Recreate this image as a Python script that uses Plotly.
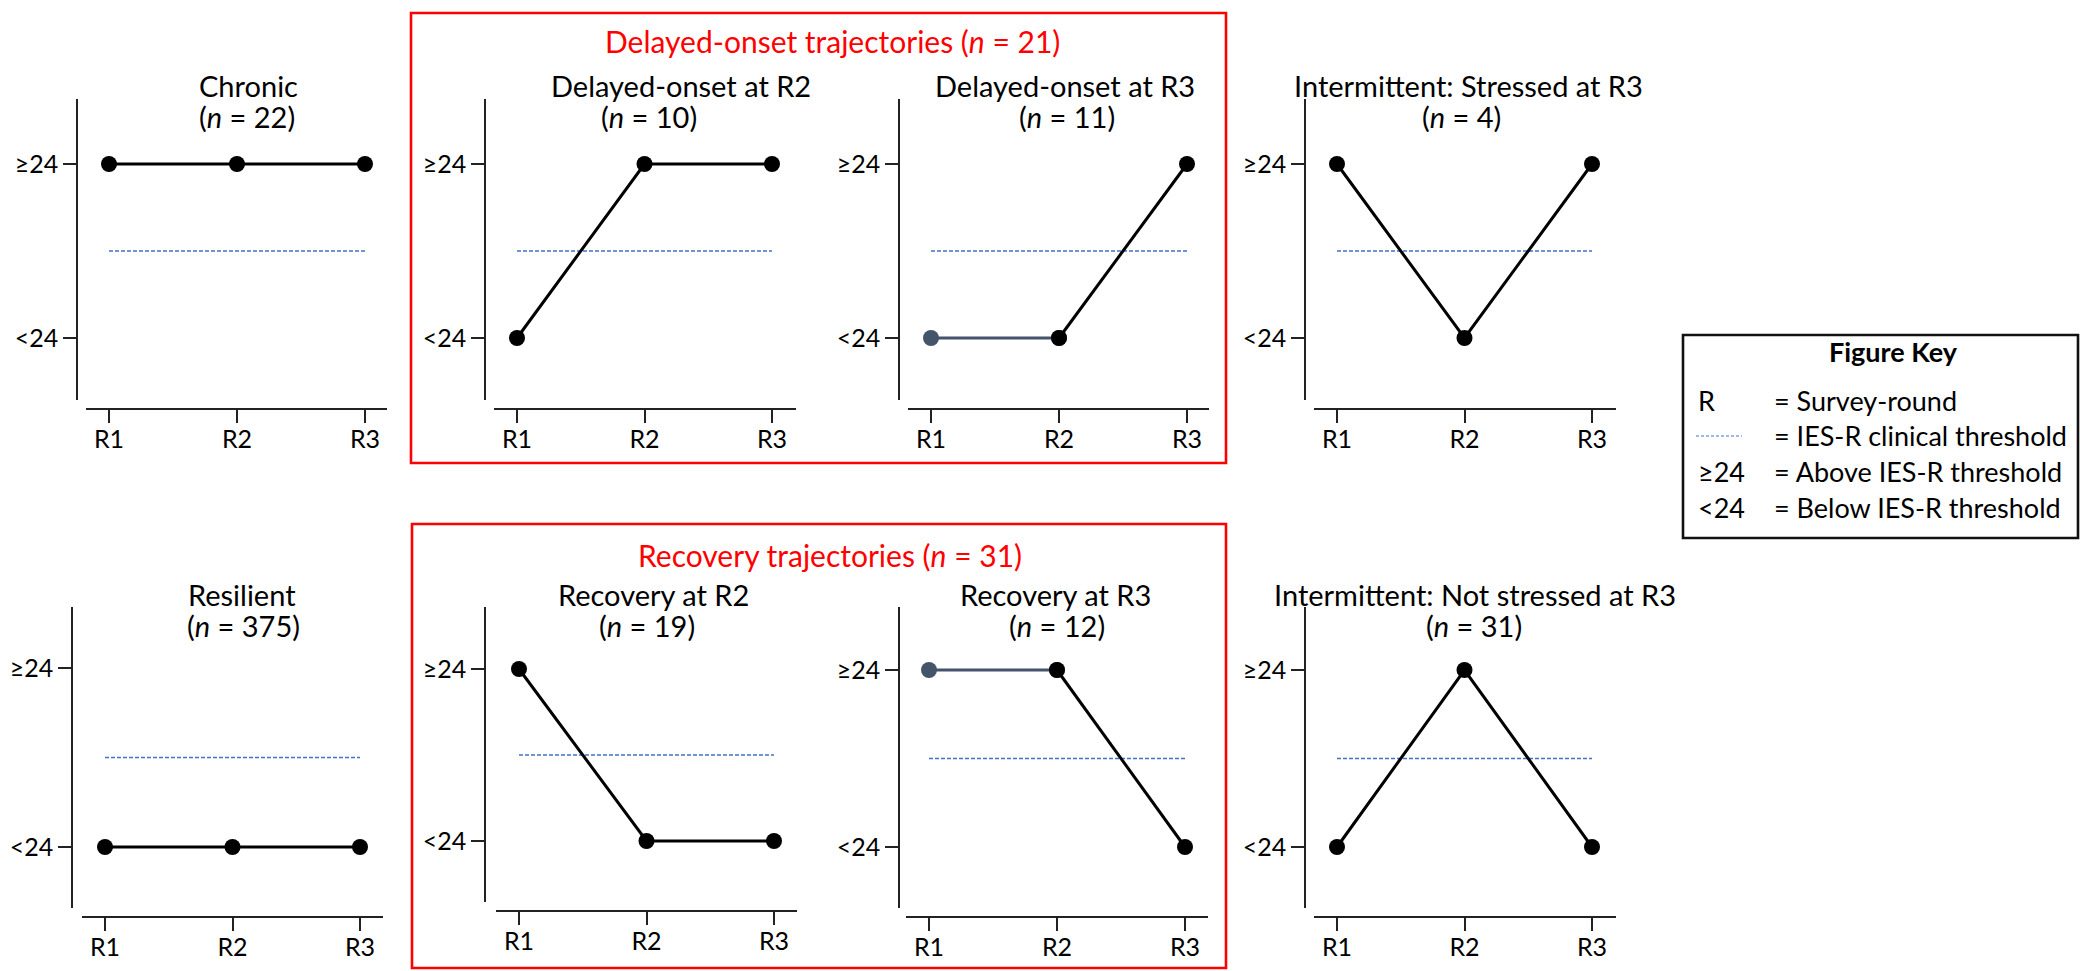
import plotly.graph_objects as go

# ---------------- data ----------------
rounds = ["R1", "R2", "R3"]
round_pos = [0, 1, 2]
level_labels = ["<24", "≥24"]
level_vals = [0, 1]
threshold_value = 0.5

panel_names = ["Chronic", "Delayed-onset at R2", "Delayed-onset at R3",
               "Intermittent: Stressed at R3", "Resilient", "Recovery at R2",
               "Recovery at R3", "Intermittent: Not stressed at R3"]
panel_n = [22, 10, 11, 4, 375, 19, 12, 31]
chronic = [1, 1, 1]
delayed_r2 = [0, 1, 1]
delayed_r3 = [0, 0, 1]
intermittent_stressed = [1, 0, 1]
resilient = [0, 0, 0]
recovery_r2 = [1, 0, 0]
recovery_r3 = [1, 1, 0]
intermittent_not = [0, 1, 0]
panel_values = [chronic, delayed_r2, delayed_r3, intermittent_stressed,
                resilient, recovery_r2, recovery_r3, intermittent_not]
# panels whose first (unchanged) segment is drawn in slate
slate_first_segment = [False, False, True, False, False, False, True, False]

group_names = ["Delayed-onset trajectories", "Recovery trajectories"]
group_n = [21, 31]

key_title = "Figure Key"
key_symbols = ["R", "", "≥24", "<24"]
key_texts = ["= Survey-round", "= IES-R clinical threshold",
             "= Above IES-R threshold", "= Below IES-R threshold"]

# ---------------- layout geometry (pixels) ----------------
W, H = 2080, 971
FONT = "Lato"
BLACK = "#000000"
SLATE = "#44546A"
BLUE = "#4472C4"
RED = "#FF0000"

# (yline_x, y_top, y_bot, xline_y, x_left, x_right, tick_r1, tick_r3, y_hi, y_lo)
geom = [
    (77, 99, 400, 409, 86, 387, 109, 365, 164, 338),
    (485, 99, 400, 409, 494, 796, 517, 772, 164, 338),
    (899, 99, 400, 409, 908, 1209, 931, 1187, 164, 338),
    (1305, 99, 400, 409, 1314, 1616, 1337, 1592, 164, 338),
    (72, 607, 908, 917, 82, 383, 105, 360, 668, 847),
    (485, 607, 902, 911, 496, 797, 519, 774, 669, 841),
    (899, 607, 908, 917, 906, 1208, 929, 1185, 670, 847),
    (1305, 607, 908, 917, 1314, 1616, 1337, 1592, 670, 847),
]
# (line1 center x, line2 center x)
title_x = [(248, 247), (681, 649), (1065, 1067), (1468, 1461),
           (242, 243), (653, 647), (1055, 1057), (1475, 1474)]
title_base = [(97, 128)] * 4 + [(606, 637)] * 4
group_title_pos = [(832, 53), (830, 567)]
group_boxes = [(411, 13, 1226, 463), (412, 524, 1226, 968)]
key_box = (1683, 335, 2078, 538)

TITLE_FS = 29
GROUP_FS = 30
TICK_FS = 25
KEY_FS = 27
MARKER = 16


def px(x):
    return x / W


def py(y):
    return 1 - y / H


def center_from_baseline(base, fs):
    return py(base - 0.387 * fs)


fig = go.Figure()
layout = {}
annotations = []
shapes = []

for i in range(8):
    (ylx, yt, yb, xly, xl, xr_, t1, t3, yhi, ylo) = geom[i]
    sfx = "" if i == 0 else str(i + 1)
    xa, ya = "x" + sfx, "y" + sfx
    s = (t3 - t1) / 2
    xrange = [-(t1 - xl) / s, 2 + (xr_ - t3) / s]
    sy = ylo - yhi
    yrange = [-(yb - ylo) / sy, 1 + (yhi - yt) / sy]
    layout["xaxis" + sfx] = dict(
        domain=[px(xl), px(xr_)], range=xrange, anchor="free", position=py(xly),
        showline=True, linecolor="#222222", linewidth=1.6, ticks="outside",
        ticklen=13, tickwidth=1.5, tickcolor="#222222", ticklabelstandoff=-5,
        tickvals=round_pos, ticktext=rounds, showgrid=False, zeroline=False,
        tickfont=dict(family=FONT, size=TICK_FS, color=BLACK), fixedrange=True)
    layout["yaxis" + sfx] = dict(
        domain=[py(yb), py(yt)], range=yrange, anchor="free", position=px(ylx),
        showline=True, linecolor="#222222", linewidth=1.6, ticks="outside",
        ticklen=13, tickwidth=1.5, tickcolor="#222222",
        tickvals=level_vals, ticktext=level_labels, showgrid=False, zeroline=False,
        tickfont=dict(family=FONT, size=TICK_FS, color=BLACK), fixedrange=True)

    # threshold
    fig.add_trace(go.Scatter(
        x=[round_pos[0], round_pos[-1]], y=[threshold_value, threshold_value],
        mode="lines", line=dict(color=BLUE, width=1.5, dash="4px,2px"),
        xaxis=xa, yaxis=ya, showlegend=False, hoverinfo="skip"))

    vals = panel_values[i]
    if slate_first_segment[i]:
        fig.add_trace(go.Scatter(
            x=round_pos[:2], y=vals[:2], mode="lines+markers",
            line=dict(color=SLATE, width=3), marker=dict(color=SLATE, size=MARKER),
            xaxis=xa, yaxis=ya, showlegend=False, cliponaxis=False))
        fig.add_trace(go.Scatter(
            x=round_pos[1:], y=vals[1:], mode="lines+markers",
            line=dict(color=BLACK, width=3), marker=dict(color=BLACK, size=MARKER),
            xaxis=xa, yaxis=ya, showlegend=False, cliponaxis=False))
    else:
        fig.add_trace(go.Scatter(
            x=round_pos, y=vals, mode="lines+markers",
            line=dict(color=BLACK, width=3), marker=dict(color=BLACK, size=MARKER),
            xaxis=xa, yaxis=ya, showlegend=False, cliponaxis=False))

    # titles
    (c1, c2), (b1, b2) = title_x[i], title_base[i]
    annotations.append(dict(
        text=panel_names[i], x=px(c1), y=center_from_baseline(b1, TITLE_FS),
        xref="paper", yref="paper", xanchor="center", yanchor="middle",
        showarrow=False, font=dict(family=FONT, size=TITLE_FS, color=BLACK)))
    annotations.append(dict(
        text=f"(<i>n</i> = {panel_n[i]})", x=px(c2), y=center_from_baseline(b2, TITLE_FS),
        xref="paper", yref="paper", xanchor="center", yanchor="middle",
        showarrow=False, font=dict(family=FONT, size=TITLE_FS, color=BLACK)))

# group boxes and titles
for g in range(2):
    x0, y0, x1, y1 = group_boxes[g]
    shapes.append(dict(type="rect", xref="paper", yref="paper",
                       x0=px(x0), x1=px(x1), y0=py(y1), y1=py(y0),
                       line=dict(color=RED, width=2.6)))
    gx, gb = group_title_pos[g]
    annotations.append(dict(
        text=f"{group_names[g]} (<i>n</i> = {group_n[g]})", x=px(gx),
        y=center_from_baseline(gb, GROUP_FS), xref="paper", yref="paper",
        xanchor="center", yanchor="middle", showarrow=False,
        font=dict(family=FONT, size=GROUP_FS, color=RED)))

# figure key
kx0, ky0, kx1, ky1 = key_box
shapes.append(dict(type="rect", xref="paper", yref="paper",
                   x0=px(kx0), x1=px(kx1), y0=py(ky1), y1=py(ky0),
                   line=dict(color="#111111", width=2.6)))
annotations.append(dict(
    text=f"<b>{key_title}</b>", x=px(1893), y=center_from_baseline(362, KEY_FS),
    xref="paper", yref="paper", xanchor="center", yanchor="middle",
    showarrow=False, font=dict(family=FONT, size=KEY_FS, color=BLACK)))
key_baselines = [411, 446, 482, 518]
for k in range(4):
    yb = center_from_baseline(key_baselines[k], KEY_FS)
    if key_symbols[k]:
        annotations.append(dict(
            text=key_symbols[k], x=px(1696), y=yb, xref="paper", yref="paper",
            xanchor="left", yanchor="middle", showarrow=False,
            font=dict(family=FONT, size=KEY_FS, color=BLACK)))
    else:
        shapes.append(dict(type="line", xref="paper", yref="paper",
                           x0=px(1696), x1=px(1742), y0=py(436), y1=py(436),
                           line=dict(color=BLUE, width=1.2, dash="3px,2px")))
    annotations.append(dict(
        text=key_texts[k], x=px(1772), y=yb, xref="paper", yref="paper",
        xanchor="left", yanchor="middle", showarrow=False,
        font=dict(family=FONT, size=KEY_FS, color=BLACK)))

fig.update_layout(
    width=W, height=H, autosize=False,
    margin=dict(l=0, r=0, t=0, b=0),
    paper_bgcolor="white", plot_bgcolor="white",
    font=dict(family=FONT, color=BLACK),
    annotations=annotations, shapes=shapes, showlegend=False,
    **layout)

fig.write_html("out.html", config={"displayModeBar": False})
